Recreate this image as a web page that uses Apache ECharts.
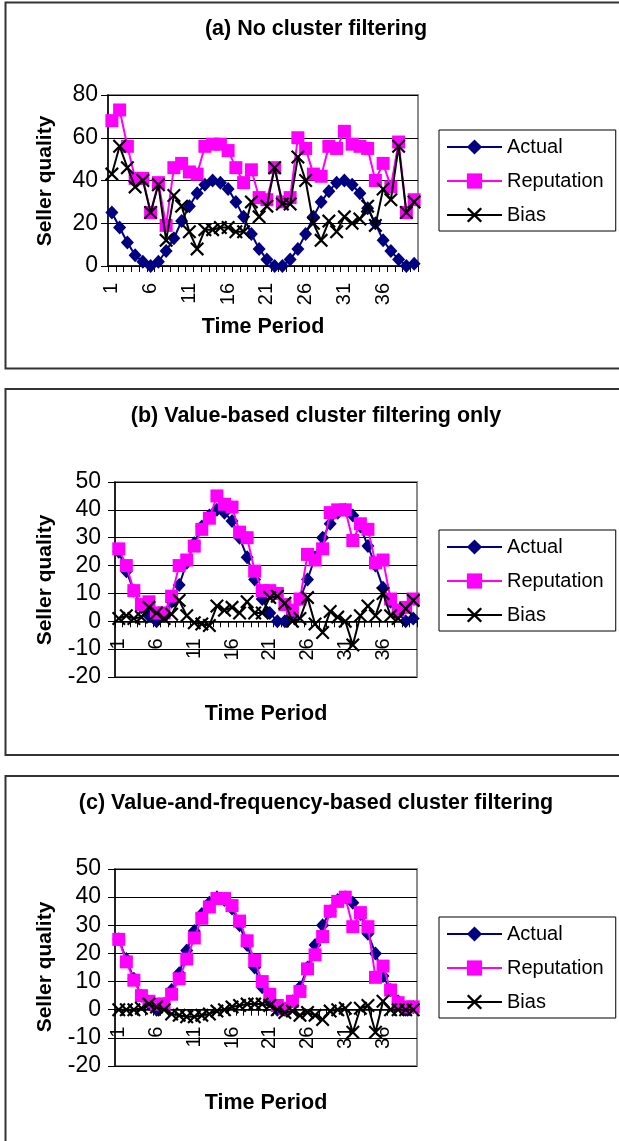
<!DOCTYPE html>
<html><head><meta charset="utf-8">
<script src="https://cdn.jsdelivr.net/npm/echarts@6/dist/echarts.min.js"></script>
<style>html,body{margin:0;padding:0;background:#fff}#c{width:619px;height:1141px}</style>
</head><body><div id="c"></div>
<script>
// ---- data ----
const periods = ['1','2','3','4','5','6','7','8','9','10','11','12','13','14','15','16','17','18','19','20',
                 '21','22','23','24','25','26','27','28','29','30','31','32','33','34','35','36','37','38','39','40'];
const seriesNames = ['Actual', 'Reputation', 'Bias'];
const panelTitles = ['(a) No cluster filtering', '(b) Value-based cluster filtering only', '(c) Value-and-frequency-based cluster filtering'];
const xAxisTitle = 'Time Period';
const yAxisTitle = 'Seller quality';
const yTicksA = [0, 80, 20];
const yTicksBC = [-20, 50, 10];

const actual = [25,18,11,5,2,0,2,7,13,21,28,34,38,40,39,36,30,23,15,8,3,0,0,3,8,15,23,30,35,39,40,38,34,27,20,12,7,3,0,1];

const reputationA = [68,73,56,41,41,25,39,19,46,48,44,43,56,57,57,54,46,39,45,32,31,46,30,32,60,55,43,42,56,55,63,57,56,55,40,48,37,58,25,31];
const biasA       = [43,56,46,37,40,25,38,12,33,28,16,8,17,17,18,18,16,16,30,23,28,46,29,29,51,40,20,12,21,16,23,20,22,28,19,36,31,56,25,30];

const reputationB = [26,20,11,6,7,3,3,9,20,22,27,33,37,45,42,41,32,30,18,11,11,10,6,4,8,24,22,26,39,40,40,29,35,33,21,22,8,4,5,8];
const biasB       = [1,2,1,1.5,5,3,1,2.5,7.5,2,-0.5,-1,-1.5,5.5,4,5,3,7,3,3,8.5,9,6.5,0,1,8.5,-1,-4,3.5,1.5,0,-8.5,2,5.5,2,10,2,1,4.5,7.5];

const reputationC = [25,17,10.5,5,3,2,2,5.5,11,18,25.5,32.5,36.5,39.5,39.5,37,31.5,24.5,17.5,10,5.5,1.5,0.5,3,6.5,14.5,19.5,26,35,38.5,40,29.5,34.5,29.5,11.5,15.5,7,2.5,1,1];
const biasC       = [0,0,0,0.5,2,1,0,-1.5,-2,-2.5,-2.5,-2,-1.5,-0.5,0,1,1.5,2,2,2,1.5,0,-1,-0.5,-2,-1,-2,-3.5,-0.5,0,0.5,-8,0.5,1.5,-8,3,0,0,0,0];

// ---- layout / style ----
const FONT = '"Liberation Sans", Arial, sans-serif';
const panels = [
  {grid:{left:108, top:95, width:310, height:171}, y:yTicksA, rep:reputationA, bias:biasA,
   box:{y:2.5,h:366}, titleY:29, nameX:263, nameY:327, yNameY:181, legendTop:130, yMargin:10},
  {grid:{left:115, top:482, width:302, height:195}, y:yTicksBC, rep:reputationB, bias:biasB,
   box:{y:389,h:366}, titleY:416, nameX:266, nameY:714, yNameY:580, legendTop:530, yMargin:14},
  {grid:{left:115, top:869, width:302, height:197}, y:yTicksBC, rep:reputationC, bias:biasC,
   box:{y:776,h:400}, titleY:803, nameX:266, nameY:1103, yNameY:967, legendTop:917, yMargin:14}
];
const xSymbol = 'path://M0,1.1L1.1,0L5,3.9L8.9,0L10,1.1L6.1,5L10,8.9L8.9,10L5,6.1L1.1,10L0,8.9L3.9,5Z';

const grids = [], xAxes = [], yAxes = [], series = [], legends = [], graphics = [];
panels.forEach((p, i) => {
  grids.push(Object.assign({show:true, borderColor:'#8c8c8c', borderWidth:2, backgroundColor:'#fff'}, p.grid));
  // place the category axis on the value-0 line (axis offset measured from the grid bottom)
  const zeroOffset = -p.grid.height * (0 - p.y[0]) / (p.y[1] - p.y[0]);
  xAxes.push({
    type:'category', gridIndex:i, data:periods, boundaryGap:true, position:'bottom', offset:zeroOffset,
    axisLine:{onZero:false, lineStyle:{color:'#000', width:1.5}},
    axisTick:{show:true, interval:0, length:6, lineStyle:{color:'#000', width:1}},
    axisLabel:{interval:4, rotate:90, margin:17, fontSize:20, color:'#000', fontFamily:FONT},
    splitLine:{show:false}
  });
  yAxes.push({
    type:'value', gridIndex:i, min:p.y[0], max:p.y[1], interval:p.y[2],
    axisLine:{show:true, onZero:false, lineStyle:{color:'#000', width:1.5}},
    axisTick:{show:true, length:7, lineStyle:{color:'#000'}},
    axisLabel:{fontSize:23, color:'#000', fontFamily:FONT, margin:p.yMargin},
    splitLine:{show:true, lineStyle:{color:'#000', width:1}}
  });
  series.push({name:seriesNames[0], type:'line', xAxisIndex:i, yAxisIndex:i, data:actual, showAllSymbol:true,
    symbol:'diamond', symbolSize:[13,14], lineStyle:{color:'#000080', width:2},
    itemStyle:{color:'#000080'}, z:2, animation:false});
  series.push({name:seriesNames[1], type:'line', xAxisIndex:i, yAxisIndex:i, data:p.rep, showAllSymbol:true,
    symbol:'rect', symbolSize:13, lineStyle:{color:'#ff00ff', width:2},
    itemStyle:{color:'#ff00ff'}, z:3, animation:false});
  series.push({name:seriesNames[2], type:'line', xAxisIndex:i, yAxisIndex:i, data:p.bias, showAllSymbol:true,
    symbol:xSymbol, symbolSize:14, lineStyle:{color:'#000', width:2},
    itemStyle:{color:'#000'}, z:4, animation:false});
  legends.push({
    data:seriesNames, orient:'vertical', left:439, top:p.legendTop,
    itemWidth:55, itemHeight:19, itemGap:14,
    padding:[7,12,6,7], borderColor:'#000', borderWidth:1, backgroundColor:'#fff',
    textStyle:{fontSize:20, color:'#000', fontFamily:FONT}
  });
  graphics.push({type:'rect', shape:{x:5.5, y:p.box.y, width:640, height:p.box.h},
    style:{fill:'none', stroke:'#333', lineWidth:2}, silent:true});
  graphics.push({type:'text', x:316, y:p.titleY, style:{text:panelTitles[i], fontSize:21.5, fontWeight:'bold',
    fontFamily:FONT, fill:'#000', textAlign:'center', textVerticalAlign:'middle'}});
  graphics.push({type:'text', x:p.nameX, y:p.nameY, style:{text:xAxisTitle, fontSize:21.5, fontWeight:'bold',
    fontFamily:FONT, fill:'#000', textAlign:'center', textVerticalAlign:'middle'}});
  graphics.push({type:'text', x:45, y:p.yNameY, rotation:Math.PI/2, style:{text:yAxisTitle, fontSize:21, fontWeight:'bold',
    fontFamily:FONT, fill:'#000', textAlign:'center', textVerticalAlign:'middle'}});
});

const chart = echarts.init(document.getElementById('c'), null, {renderer:'canvas'});
chart.setOption({
  animation:false, backgroundColor:'#fff',
  grid:grids, xAxis:xAxes, yAxis:yAxes, series:series, legend:legends, graphic:graphics
});
</script></body></html>
